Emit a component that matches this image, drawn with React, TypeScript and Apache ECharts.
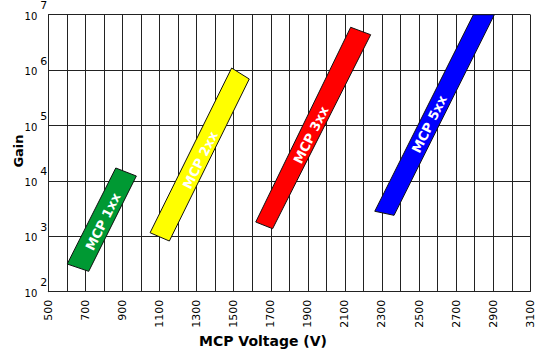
import React, { useEffect, useRef } from "react";
import * as echarts from "echarts";

// X axis (MCP voltage) tick labels, shown every 200 V; grid lines every 100 V
const xTickLabels = ["500", "700", "900", "1100", "1300", "1500", "1700", "1900", "2100", "2300", "2500", "2700", "2900", "3100"];
// Y axis decades (gain)
const yDecades = [100, 1000, 10000, 100000, 1000000, 10000000];

// Band corners: bottom-left, bottom-right, top-right, top-left (voltage, gain)
const bandNames = ["MCP 1xx", "MCP 2xx", "MCP 3xx", "MCP 5xx"];
const bandColors = ["#009933", "#ffff00", "#ff0000", "#0000ff"];
const mcp1Volts = [602, 718, 975, 864];
const mcp1Gains = [316, 233, 12250, 17100];
const mcp2Volts = [1049, 1153, 1584, 1489];
const mcp2Gains = [1160, 822, 690000, 1090000];
const mcp3Volts = [1619, 1710, 2239, 2131];
const mcp3Gains = [1810, 1370, 4350000, 5930000];
const mcp5Volts = [2261, 2365, 2906, 2793];
const mcp5Gains = [2830, 2390, 10000000, 10000000];
// Label centres (voltage, gain)
const labelVolts = [795, 1320, 1918, 2555];
const labelGains = [1835, 23800, 67400, 106000];

const bandVolts = [mcp1Volts, mcp2Volts, mcp3Volts, mcp5Volts];
const bandGains = [mcp1Gains, mcp2Gains, mcp3Gains, mcp5Gains];

export default function App() {
  const ref = useRef<HTMLDivElement>(null);
  useEffect(() => {
    if (!ref.current) return;
    const chart = echarts.init(ref.current, null, { renderer: "svg" });
    const font = "DejaVu Sans";
    const angle = (63.5 * Math.PI) / 180;
    chart.setOption({
      animation: false,
      backgroundColor: "#ffffff",
      grid: { left: 48.3, top: 14.7, right: 6.7, bottom: 59.3, containLabel: false },
      xAxis: {
        type: "value",
        min: 500,
        max: 3100,
        interval: 100,
        axisLine: { show: true, lineStyle: { color: "#222", width: 1 } },
        axisTick: { show: false },
        axisLabel: {
          rotate: 90,
          margin: 8,
          color: "#000",
          fontFamily: font,
          fontSize: 11,
          formatter: (v: number) => (xTickLabels.includes(String(v)) ? String(v) : ""),
        },
        splitLine: { show: true, lineStyle: { color: "#222", width: 1 } },
      },
      yAxis: {
        type: "log",
        logBase: 10,
        min: yDecades[0],
        max: yDecades[yDecades.length - 1],
        axisLine: { show: true, lineStyle: { color: "#222", width: 1 } },
        axisTick: { show: false },
        axisLabel: {
          margin: 1,
          color: "#000",
          fontFamily: font,
          formatter: (v: number) => `{b|10}{s|${Math.round(Math.log10(v))}}`,
          rich: {
            b: { fontSize: 10, fontFamily: font, color: "#000", padding: [3, 0, 0, 0] },
            s: { fontSize: 11, fontFamily: font, color: "#000", padding: [0, 0, 18, 3] },
          },
        },
        splitLine: { show: true, lineStyle: { color: "#222", width: 1 } },
      },
      graphic: [
        {
          type: "text",
          x: 18,
          y: 151,
          rotation: Math.PI / 2,
          style: { text: "Gain", fontFamily: font, fontSize: 13, fontWeight: "bold", fill: "#000", align: "center", verticalAlign: "middle" },
        },
        {
          type: "text",
          x: 263,
          y: 341,
          style: { text: "MCP Voltage (V)", fontFamily: font, fontSize: 14, fontWeight: "bold", fill: "#000", align: "center", verticalAlign: "middle" },
        },
      ],
      series: [
        {
          type: "custom",
          coordinateSystem: "cartesian2d",
          clip: true,
          encode: { x: 0, y: 1 },
          data: bandNames.map((_, i) => [labelVolts[i], labelGains[i], i]),
          renderItem: (params: any, api: any) => {
            const i = params.dataIndex;
            const pts = bandVolts[i].map((v, k) => api.coord([v, bandGains[i][k]]));
            const c = api.coord([labelVolts[i], labelGains[i]]);
            return {
              type: "group",
              children: [
                {
                  type: "polygon",
                  shape: { points: pts },
                  style: { fill: bandColors[i], stroke: "#111", lineWidth: 1 },
                },
                {
                  type: "text",
                  x: c[0],
                  y: c[1],
                  rotation: angle,
                  style: {
                    text: bandNames[i],
                    fill: "#ffffff",
                    fontFamily: font,
                    fontSize: 13,
                    fontWeight: "bold",
                    align: "center",
                    verticalAlign: "middle",
                  },
                },
              ],
            };
          },
        },
      ],
    });
    return () => chart.dispose();
  }, []);
  return <div ref={ref} style={{ position: "fixed", left: 0, top: 0, width: 537, height: 351 }} />;
}
